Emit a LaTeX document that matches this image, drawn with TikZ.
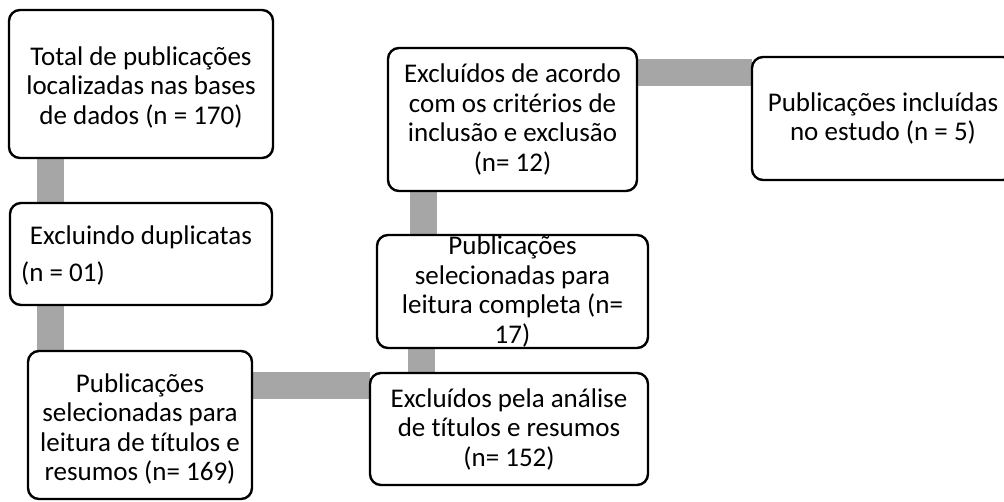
\documentclass[tikz,border=0pt]{standalone}
\usepackage{fontspec}
\setmainfont{Carlito}[Ligatures={NoCommon}]
\usetikzlibrary{backgrounds}
\definecolor{conngray}{RGB}{166,166,166}
\tikzset{
  box/.style={draw=black, line width=2.4pt, rounded corners=11pt, fill=white, inner sep=0pt, outer sep=0pt},
  txt/.style={align=center, inner sep=0pt, font=\fontsize{27}{29.5}\selectfont},
  conn/.style={draw=conngray, line width=27pt}
}
\begin{document}
\begin{tikzpicture}[x=1pt,y=1pt]
\useasboundingbox (0,0) rectangle (1004,-501);
\clip (0,0) rectangle (1004,-501);
% boxes
\node[box, minimum width=264, minimum height=148] (b1) at (141,-84) {};
\node[box, minimum width=262, minimum height=102] (b2) at (141,-254) {};
\node[box, minimum width=224, minimum height=148] (b3) at (140,-425) {};
\node[box, minimum width=278, minimum height=112] (b4) at (509,-429) {};
\node[box, minimum width=271, minimum height=113] (b5) at (512.5,-291.5) {};
\node[box, minimum width=249, minimum height=143] (b6) at (512.5,-119.5) {};
\node[box, minimum width=262, minimum height=123] (b7) at (883,-118.5) {};
% texts
\node[txt] (t1) at ([yshift=-3]b1.center) {Total de publicações\\localizadas nas bases\\de dados (n = 170)};
\node[txt] (t2a) at (141,-237) {Excluindo duplicatas};
\node[txt, anchor=west] (t2b) at (21,-273) {(n = 01)};
\node[txt] (t3) at ([yshift=-4]b3.center) {Publicações\\selecionadas para\\leitura de títulos e\\resumos (n= 169)};
\node[txt] (t4) at (b4.center) {Excluídos pela análise\\de títulos e resumos\\(n= 152)};
\node[txt] (t5) at (b5.center) {Publicações\\selecionadas para\\leitura completa (n=\\17)};
\node[txt] (t6) at (b6.center) {Excluídos de acordo\\com os critérios de\\inclusão e exclusão\\(n= 12)};
\node[txt] (t7) at (b7.center) {Publicações incluídas\\no estudo (n = 5)};
% connectors
\coordinate (c12) at ([xshift=41.5]b1.south west);
\coordinate (c23) at ([xshift=40.5]b2.south west);
\coordinate (c34) at ([yshift=40]b3.east);
\coordinate (c54) at ([xshift=44.5]b5.south west);
\coordinate (c65) at ([xshift=35]b6.south west);
\coordinate (c67) at ([yshift=47]b6.east);
\begin{scope}[on background layer]
\draw[conn] (c12) -- (c12 |- b2.north);
\draw[conn] (c23) -- (c23 |- b3.north);
\draw[conn] (c34) -- (c34 -| b4.west);
\draw[conn] (c54) -- (c54 |- b4.north);
\draw[conn] (c65) -- (c65 |- b5.north);
\draw[conn] (c67) -- (c67 -| b7.west);
\end{scope}
\end{tikzpicture}
\end{document}
